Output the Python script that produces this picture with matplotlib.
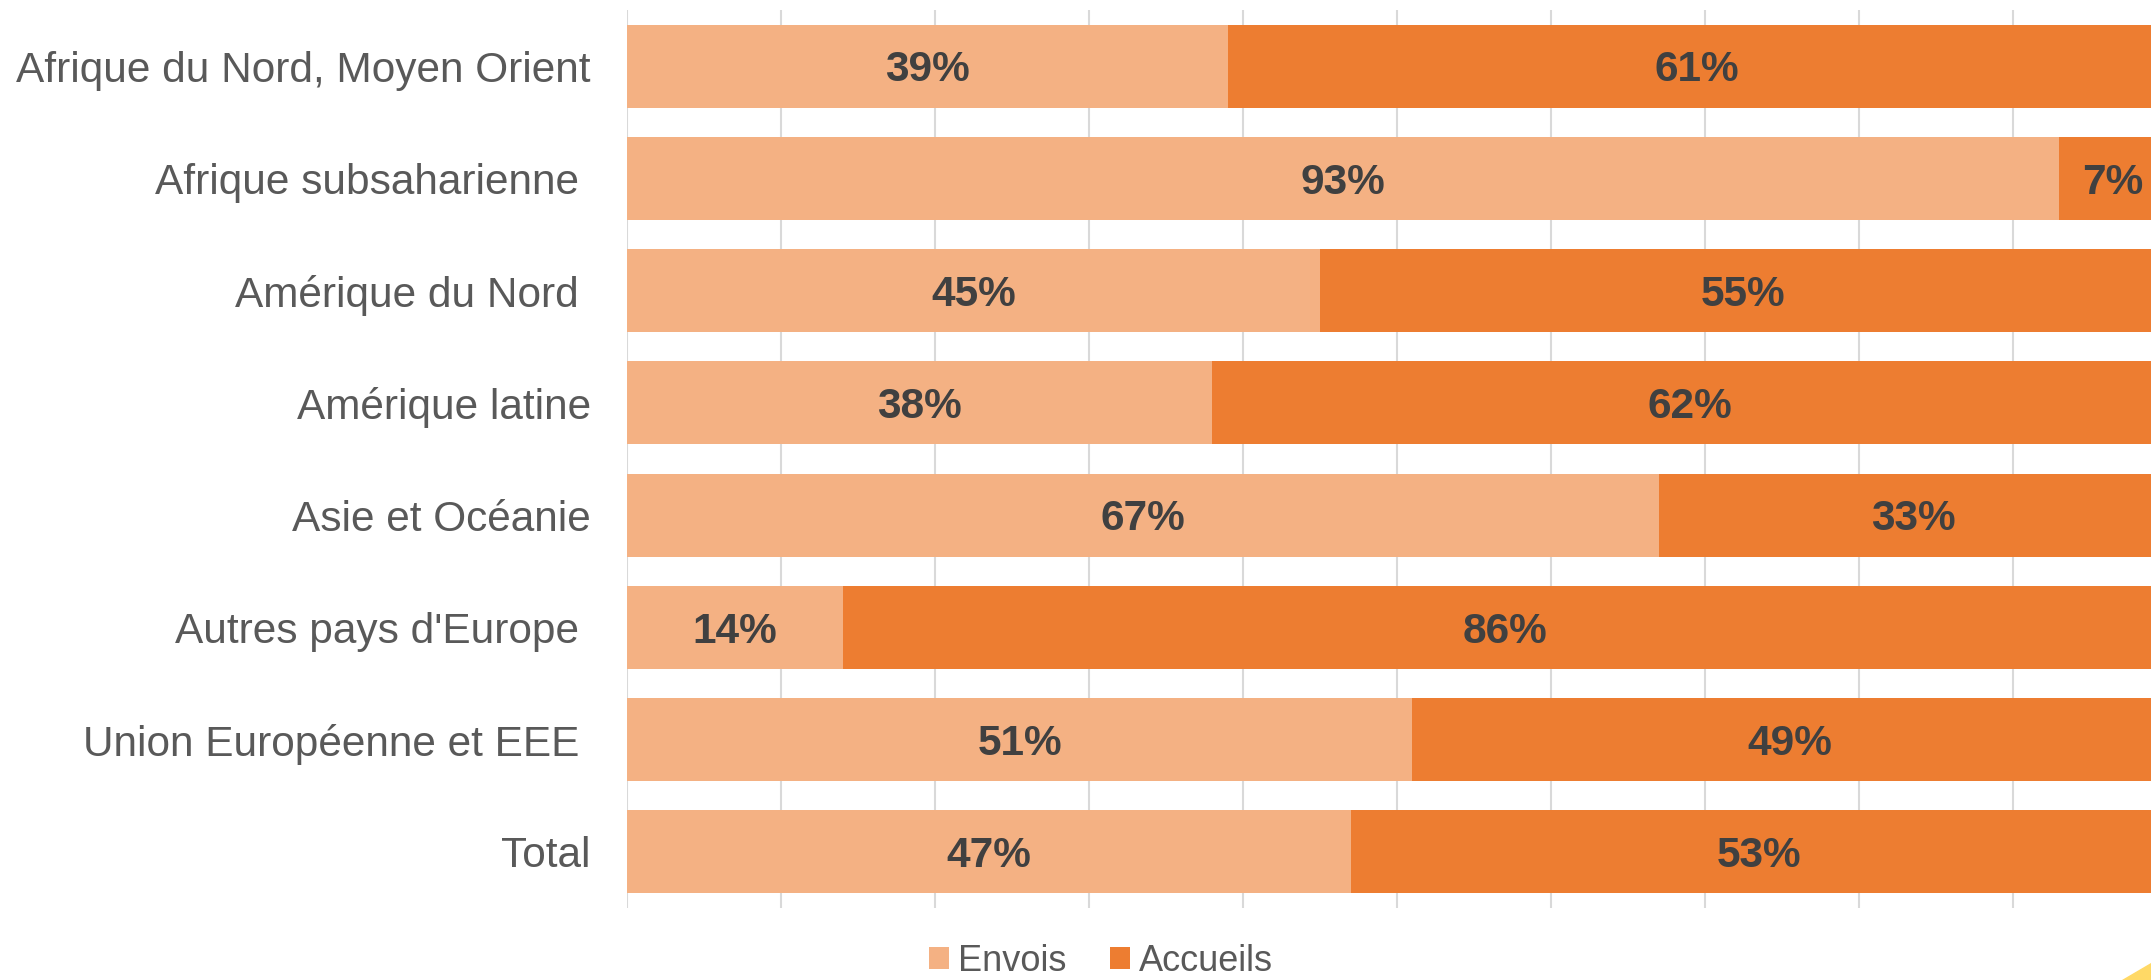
import numpy as np
import matplotlib
matplotlib.use('Agg')
import matplotlib.pyplot as plt
from matplotlib.patches import Polygon

plt.rcParams['font.family'] = ['Liberation Sans', 'DejaVu Sans']

# data, top to bottom
categories = ['Afrique du Nord, Moyen Orient', 'Afrique subsaharienne ', 'Amérique du Nord ',
              'Amérique latine', 'Asie et Océanie', "Autres pays d'Europe ",
              'Union Européenne et EEE ', 'Total']
envois   = [0.39, 0.93, 0.45, 0.38, 0.67, 0.14, 0.51, 0.47]
accueils = [0.61, 0.07, 0.55, 0.62, 0.33, 0.86, 0.49, 0.53]

c_env = '#F4B183'
c_acc = '#ED7D31'
txt_grey = '#595959'
lbl_grey = '#404040'

fig = plt.figure(figsize=(21.51, 9.8), dpi=100)
ax = fig.add_axes([627/2151, 1 - 908/980, 1540/2151, 898/980])

y = np.arange(len(categories))
b1 = ax.barh(y, envois, height=0.74, color=c_env, label='Envois', zorder=2)
b2 = ax.barh(y, accueils, left=envois, height=0.74, color=c_acc, label='Accueils', zorder=2)

# value labels in the middle of each segment (baseline shifted so digits sit centred)
off = 0.135
for i in range(len(categories)):
    ax.text(envois[i] / 2, y[i] + off, f'{envois[i]*100:.0f}%', ha='center', va='baseline',
            fontsize=30.5, fontweight='bold', color=lbl_grey, zorder=3)
    ax.text(envois[i] + accueils[i] / 2, y[i] + off, f'{accueils[i]*100:.0f}%', ha='center',
            va='baseline', fontsize=30.5, fontweight='bold', color=lbl_grey, zorder=3)

ax.set_xlim(0, 1)
ax.set_ylim(len(categories) - 0.5, -0.5)
ax.set_xticks(np.arange(0, 1.01, 0.1))
ax.set_xticklabels([])
ax.set_yticks(y)
ax.set_yticklabels(categories, fontsize=30.5, color=txt_grey)
ax.tick_params(axis='y', length=0, pad=26)
ax.tick_params(axis='x', length=0)
ax.grid(axis='x', color='#D9D9D9', linewidth=1.5, zorder=0)
ax.set_axisbelow(True)
for s in ax.spines.values():
    s.set_visible(False)

fig.legend(handles=[b1, b2], loc='center', bbox_to_anchor=(1101/2151, 1 - 961/980),
           ncol=2, frameon=False, fontsize=26, labelcolor=txt_grey,
           handlelength=0.55, handleheight=0.55, handletextpad=0.25, columnspacing=1.2)

# small yellow corner decoration
tri = Polygon([[2122/2151, 0], [1, 0], [1, 17/980]], closed=True,
              transform=fig.transFigure, color='#FFD966', clip_on=False)
fig.patches.append(tri)

fig.savefig('out.png', dpi=100)
